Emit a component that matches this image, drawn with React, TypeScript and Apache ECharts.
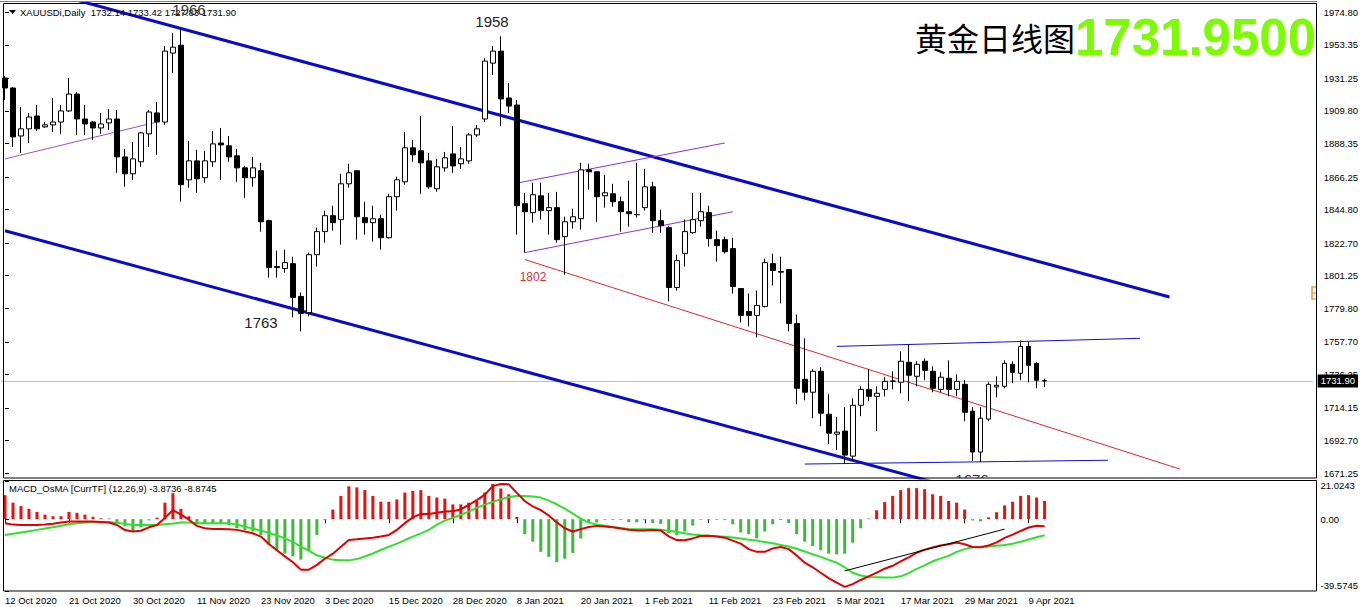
import React, { useEffect, useRef } from 'react';
import * as echarts from 'echarts';

// ---------- data ----------
const SLOTS = 164;
const LABEL_STEP = 8;
const dateLabels = ['12 Oct 2020', '21 Oct 2020', '30 Oct 2020', '11 Nov 2020', '23 Nov 2020', '3 Dec 2020', '15 Dec 2020', '28 Dec 2020', '8 Jan 2021', '20 Jan 2021', '1 Feb 2021', '11 Feb 2021', '23 Feb 2021', '5 Mar 2021', '17 Mar 2021', '29 Mar 2021', '9 Apr 2021'];

const opens = [
  1931.5, 1924.9, 1893.3, 1898.0, 1906.5, 1899.3, 1900.6, 1902.5, 1909.8, 1920.9,
  1904.5, 1902.5, 1898.6, 1901.9, 1904.5, 1879.5, 1868.4, 1876.3, 1894.7, 1908.5,
  1902.5, 1947.9, 1953.1, 1864.4, 1876.9, 1865.8, 1876.3, 1888.7, 1886.8, 1880.2,
  1872.3, 1865.8, 1870.4, 1837.5, 1807.3, 1806.0, 1809.2, 1787.6, 1777.0, 1815.1,
  1830.3, 1840.8, 1838.2, 1861.8, 1870.4, 1839.5, 1836.2, 1838.8, 1826.3, 1853.3,
  1863.1, 1885.5, 1883.5, 1876.9, 1858.5, 1872.3, 1881.5, 1875.0, 1876.9, 1894.0,
  1904.5, 1941.3, 1949.2, 1918.3, 1913.7, 1848.7, 1842.8, 1853.9, 1844.1, 1846.1,
  1827.0, 1836.8, 1838.8, 1871.0, 1869.7, 1853.9, 1855.2, 1850.0, 1843.4, 1841.4,
  1846.1, 1859.8, 1837.5, 1832.9, 1793.5, 1815.8, 1829.6, 1837.5, 1842.8, 1825.0,
  1825.0, 1819.1, 1792.8, 1777.7, 1775.1, 1781.0, 1809.2, 1804.0, 1805.3, 1769.8,
  1733.0, 1724.5, 1738.3, 1710.0, 1696.9, 1698.9, 1682.4, 1715.9, 1726.4, 1721.8,
  1726.4, 1731.7, 1731.1, 1744.2, 1735.0, 1744.9, 1738.3, 1726.4, 1733.7, 1726.4,
  1729.7, 1712.0, 1685.1, 1706.8, 1728.0, 1728.4, 1742.9, 1737.0, 1754.7, 1743.5,
  1732.14,
];
const highs = [
  1932.8, 1925.5, 1912.4, 1908.5, 1913.7, 1902.5, 1918.3, 1913.7, 1931.5, 1922.3,
  1913.7, 1903.2, 1908.5, 1911.1, 1910.4, 1884.8, 1889.4, 1896.0, 1910.4, 1915.7,
  1952.5, 1961.0, 1964.3, 1890.1, 1884.2, 1883.5, 1896.6, 1898.6, 1893.3, 1884.8,
  1873.6, 1879.5, 1875.6, 1838.2, 1817.8, 1818.4, 1813.8, 1790.2, 1816.5, 1832.9,
  1844.1, 1847.4, 1868.4, 1875.0, 1870.4, 1850.0, 1847.4, 1841.4, 1855.2, 1866.4,
  1896.0, 1890.7, 1906.5, 1882.2, 1878.2, 1882.8, 1899.9, 1886.1, 1895.3, 1900.6,
  1944.6, 1952.5, 1959.0, 1928.2, 1917.0, 1855.9, 1862.5, 1862.5, 1855.9, 1856.5,
  1840.1, 1845.4, 1875.6, 1875.0, 1870.0, 1867.7, 1861.8, 1853.3, 1863.8, 1875.6,
  1871.7, 1863.1, 1844.7, 1834.2, 1815.1, 1838.2, 1855.9, 1855.9, 1847.4, 1830.9,
  1827.0, 1826.3, 1792.8, 1789.5, 1791.5, 1812.5, 1815.8, 1813.8, 1805.6, 1775.7,
  1760.0, 1739.6, 1740.9, 1723.2, 1708.1, 1714.6, 1720.5, 1728.4, 1739.6, 1728.4,
  1734.4, 1738.3, 1751.4, 1756.0, 1744.9, 1746.8, 1741.6, 1737.6, 1745.5, 1736.3,
  1732.4, 1714.6, 1714.6, 1731.1, 1735.0, 1745.5, 1744.9, 1758.6, 1758.0, 1744.2,
  1733.42,
];
const lows = [
  1917.0, 1886.1, 1882.2, 1888.7, 1896.6, 1898.6, 1896.0, 1894.7, 1909.1, 1894.0,
  1894.0, 1890.7, 1894.7, 1897.3, 1869.0, 1859.8, 1864.4, 1873.0, 1886.1, 1880.9,
  1900.6, 1934.7, 1850.0, 1859.2, 1855.9, 1862.5, 1873.0, 1864.4, 1876.3, 1863.1,
  1852.6, 1859.8, 1830.3, 1800.0, 1800.0, 1803.3, 1773.8, 1764.6, 1774.4, 1807.3,
  1823.0, 1830.9, 1821.7, 1859.2, 1825.0, 1828.3, 1823.7, 1818.4, 1825.7, 1844.1,
  1861.2, 1876.3, 1855.2, 1858.5, 1856.5, 1869.7, 1869.0, 1871.7, 1875.0, 1892.7,
  1902.5, 1933.4, 1899.9, 1908.5, 1828.3, 1816.5, 1836.2, 1838.2, 1828.3, 1823.0,
  1802.0, 1832.3, 1831.6, 1857.9, 1836.8, 1846.1, 1846.7, 1830.3, 1833.6, 1839.5,
  1844.1, 1829.6, 1829.6, 1784.3, 1791.5, 1807.3, 1829.0, 1833.6, 1820.4, 1810.5,
  1815.8, 1789.5, 1770.5, 1767.9, 1760.6, 1780.3, 1794.8, 1783.0, 1764.6, 1716.6,
  1719.2, 1707.4, 1702.1, 1690.3, 1686.4, 1677.2, 1679.2, 1708.7, 1718.6, 1698.9,
  1721.8, 1726.4, 1723.8, 1718.6, 1728.4, 1732.4, 1724.5, 1724.5, 1721.8, 1721.8,
  1705.4, 1679.2, 1678.5, 1705.4, 1721.2, 1727.1, 1730.4, 1732.4, 1731.1, 1727.1,
  1727.83,
];
const closes = [
  1924.9, 1892.7, 1898.0, 1905.8, 1898.0, 1900.6, 1902.5, 1909.8, 1920.9, 1904.5,
  1901.2, 1898.6, 1901.2, 1904.5, 1879.5, 1868.4, 1878.2, 1895.3, 1909.1, 1902.5,
  1949.2, 1951.8, 1861.2, 1876.9, 1865.1, 1876.9, 1888.1, 1887.4, 1879.5, 1872.3,
  1865.8, 1872.3, 1836.8, 1806.6, 1806.6, 1809.9, 1786.9, 1776.4, 1815.1, 1830.3,
  1840.8, 1836.2, 1861.8, 1869.0, 1840.1, 1836.2, 1838.8, 1826.3, 1853.3, 1864.4,
  1885.5, 1880.9, 1875.6, 1859.8, 1873.0, 1878.9, 1873.6, 1878.2, 1894.0, 1898.0,
  1942.6, 1949.2, 1917.7, 1913.0, 1847.4, 1843.4, 1854.6, 1844.1, 1846.1, 1825.0,
  1836.8, 1840.1, 1871.0, 1869.7, 1853.3, 1855.9, 1850.0, 1843.4, 1842.1, 1841.6,
  1859.8, 1837.5, 1834.2, 1793.5, 1811.2, 1830.3, 1838.2, 1843.4, 1825.7, 1821.1,
  1817.1, 1794.1, 1775.1, 1775.1, 1781.7, 1809.9, 1804.7, 1803.6, 1769.8, 1727.1,
  1724.5, 1738.3, 1710.7, 1697.5, 1698.2, 1683.1, 1715.9, 1726.4, 1721.8, 1723.8,
  1731.7, 1731.9, 1744.9, 1735.7, 1742.9, 1738.9, 1727.1, 1734.4, 1726.4, 1731.7,
  1711.3, 1685.1, 1707.4, 1729.7, 1729.1, 1743.5, 1737.6, 1754.7, 1742.2, 1732.4,
  1731.90,
];

const osma = [
  13.2, 9.1, 7.2, 5.7, 4.0, 2.5, 1.6, 1.6, 4.0, 3.5,
  2.5, 1.3, 0.5, 0.3, -2.2, -4.0, -6.8, -4.5, -0.7, 0.8,
  9.1, 14.3, 5.7, 1.6, -2.2, -2.2, -2.8, -2.8, -3.2, -5.0,
  -5.9, -6.8, -8.7, -14.3, -17.1, -19.0, -20.5, -22.3, -17.1, -8.7,
  -0.5, 5.3, 12.8, 18.1, 17.5, 16.0, 12.8, 9.6, 9.6, 10.9,
  14.7, 15.6, 16.0, 12.8, 11.9, 11.3, 8.1, 8.1, 9.1, 10.0,
  14.7, 19.4, 16.9, 13.7, 1.2, -8.3, -12.4, -18.0, -20.8, -23.7,
  -21.8, -18.6, -10.6, -2.2, -1.8, -0.4, -0.5, -0.5, -1.7, -1.7,
  -0.5, -2.2, -2.6, -7.8, -8.7, -6.8, -3.5, -0.4, -0.4, -0.4,
  -0.5, -2.8, -7.3, -8.3, -10.6, -6.8, -2.8, -0.5, -2.2, -8.3,
  -12.4, -14.8, -17.1, -19.0, -19.4, -19.0, -13.0, -5.0, 0.3, 4.9,
  9.4, 12.8, 16.0, 17.1, 17.1, 16.5, 13.7, 12.8, 10.0, 9.1,
  5.3, -0.7, -1.2, 1.0, 3.8, 7.6, 9.6, 12.8, 13.2, 11.9,
  10.0,
];
const macdLine = [
  -2.2, -3.0, -3.2, -3.2, -3.2, -3.0, -2.5, -1.8, -1.3, -1.3,
  -1.3, -1.3, -1.5, -1.8, -3.2, -6.0, -6.8, -6.4, -4.5, -3.2,
  0.7, 5.0, 2.5, -0.3, -3.7, -5.0, -5.4, -5.4, -5.6, -5.9,
  -6.8, -7.8, -9.6, -13.7, -17.1, -20.5, -23.7, -27.8, -27.8, -25.2,
  -21.8, -19.0, -15.2, -11.5, -11.1, -10.6, -10.2, -9.6, -8.7, -5.9,
  -2.2, 1.0, 2.9, 2.9, 3.5, 4.2, 4.3, 5.5, 7.8, 10.5,
  13.5, 18.2, 19.4, 19.2, 14.5, 10.0, 7.0, 5.0, 2.0, -1.8,
  -5.0, -6.8, -5.5, -4.3, -3.7, -4.0, -4.5, -5.2, -5.8, -6.3,
  -6.2, -6.0, -6.2, -9.5, -11.5, -11.6, -10.6, -9.3, -9.2, -9.6,
  -10.2, -11.8, -13.5, -16.5, -18.0, -18.0, -16.1, -15.3, -16.5, -20.0,
  -24.0, -26.5, -29.5, -32.5, -35.0, -37.3, -35.8, -33.5, -31.5, -29.5,
  -27.3, -25.7, -23.3, -21.0, -18.5, -16.8, -15.6, -14.5, -13.8, -12.9,
  -13.8, -15.3, -15.5, -14.5, -12.8, -10.3, -8.5, -6.5, -4.6, -3.6,
  -3.8736,
];
const signalLine = [
  -8.7, -8.0, -7.3, -6.6, -5.9, -5.2, -4.5, -3.6, -2.8, -2.3,
  -1.9, -1.7, -1.7, -1.7, -2.0, -2.6, -3.2, -3.2, -3.2, -3.2,
  -2.8, -2.4, -1.9, -1.9, -2.2, -2.2, -2.2, -2.2, -2.2, -3.0,
  -4.2, -5.2, -6.3, -7.5, -9.0, -10.6, -12.5, -15.2, -17.3, -19.9,
  -21.3, -22.3, -22.7, -22.7, -22.0, -20.6, -18.9, -17.0, -15.2, -13.5,
  -11.5, -9.6, -7.8, -5.9, -3.0, -0.8, 0.8, 2.4, 4.2, 6.2,
  8.0, 9.5, 11.0, 12.2, 12.8, 12.8, 12.5, 11.9, 10.2, 8.2,
  5.8, 3.0, 0.3, -1.9, -2.9, -3.6, -4.3, -4.9, -5.4, -5.6,
  -5.6, -5.6, -5.8, -6.4, -7.1, -7.8, -8.4, -8.9, -9.2, -9.4,
  -9.7, -10.1, -10.7, -11.3, -11.8, -12.6, -13.3, -14.2, -15.1, -16.3,
  -17.8, -19.3, -20.8, -22.4, -24.0, -26.5, -29.5, -31.0, -31.8, -32.0,
  -32.2, -32.2, -31.5, -29.7, -27.4, -25.5, -23.2, -21.6, -20.2, -18.0,
  -16.5, -15.5, -15.2, -15.0, -14.6, -14.2, -13.5, -12.4, -11.2, -10.0,
  -8.8745,
];

const priceTicks = [1974.80, 1953.35, 1931.25, 1909.80, 1888.35, 1866.25, 1844.80, 1822.70, 1801.25, 1779.80, 1757.70, 1736.25, 1714.15, 1692.70, 1671.25];
const macdTicks = [21.0243, 0, -39.5745];
const lastPrice = 1731.90;

// trend lines: [bar index, price]
const channelUpper = [[0, 1995.6], [145.6, 1787.2]];
const channelLower = [[0, 1830.9], [116, 1665.4]];
const purpleLeft = [[0, 1878.2], [19, 1902.5]];
const purpleUpper = [[64.25, 1862.5], [90, 1888.7]];
const purpleLower = [[65, 1816.5], [91, 1843.4]];
const redTrend = [[65, 1811.9], [146.9, 1673.9]];
const blueTop = [[104, 1754.7], [141.9, 1760.0]];
const blueBottom = [[100, 1677.2], [137.9, 1679.7]];
const macdTrend = [[105, -28.5], [125, -5.5]];

const FONT = "'Liberation Sans', Arial, sans-serif";

export default function App() {
  const ref = useRef<HTMLDivElement>(null);

  useEffect(() => {
    if (!ref.current) return;
    const chart = echarts.init(ref.current, undefined, { renderer: 'svg' });

    const cats = Array.from({ length: SLOTS }, (_, i) =>
      i % LABEL_STEP === 0 && dateLabels[i / LABEL_STEP] ? dateLabels[i / LABEL_STEP] : ''
    );
    const showCat = (i: number) => cats[i] !== '';
    const candles = opens.map((o, i) => [o, closes[i], lows[i], highs[i]]);
    const macdMax = macdTicks[0];
    const macdMin = macdTicks[macdTicks.length - 1];

    const trend = (data: number[][], color: string, width: number, xi = 2, yi = 0) => ({
      type: 'line',
      xAxisIndex: xi,
      yAxisIndex: yi,
      data,
      symbol: 'none',
      silent: true,
      lineStyle: { color, width },
      z: 4,
    });

    const option: any = {
      animation: false,
      backgroundColor: '#ffffff',
      grid: [
        { left: 1, top: 3, width: 1312, height: 475 },
        { left: 1, top: 481, width: 1312, height: 110 },
      ],
      xAxis: [
        { type: 'category', gridIndex: 0, data: cats, boundaryGap: true, show: false },
        {
          type: 'category', gridIndex: 1, data: cats, boundaryGap: true,
          axisLine: { show: false },
          axisTick: { show: true, alignWithLabel: true, interval: (i: number) => showCat(i), length: 4, lineStyle: { color: '#000' } },
          axisLabel: { interval: (i: number) => showCat(i), align: 'left', margin: 4, fontSize: 9.5, color: '#000', fontFamily: FONT },
          splitLine: { show: false },
        },
        { type: 'value', gridIndex: 0, min: -0.5, max: SLOTS - 0.5, show: false },
        { type: 'value', gridIndex: 1, min: -0.5, max: SLOTS - 0.5, show: false },
      ],
      yAxis: [
        {
          type: 'value', gridIndex: 0, position: 'right', offset: 4, min: 1668.0, max: 1980.9,
          axisLine: { show: false },
          axisTick: { show: true, customValues: priceTicks, length: 4, lineStyle: { color: '#000' } },
          axisLabel: { customValues: priceTicks, formatter: (v: number) => v.toFixed(2), margin: 7, fontSize: 9.5, color: '#000', fontFamily: FONT },
          splitLine: { show: false },
        },
        {
          type: 'value', gridIndex: 1, position: 'right', offset: 4, min: macdMin, max: macdMax,
          axisLine: { show: false },
          axisTick: { show: true, customValues: macdTicks, length: 4, lineStyle: { color: '#000' } },
          axisLabel: {
            customValues: macdTicks,
            formatter: (v: number) => {
              if (v === 0) return '0.00';
              if (v === macdMax) return '{top|' + v.toFixed(4) + '}';
              return '{bot|' + v.toFixed(4) + '}';
            },
            rich: {
              top: { padding: [9, 0, 0, 0], fontSize: 9.5, color: '#000', fontFamily: FONT },
              bot: { padding: [0, 0, 12, 0], fontSize: 9.5, color: '#000', fontFamily: FONT },
            },
            margin: 4, fontSize: 9.5, color: '#000', fontFamily: FONT,
          },
          splitLine: { show: false },
        },
      ],
      series: [
        {
          type: 'candlestick',
          xAxisIndex: 0,
          yAxisIndex: 0,
          data: candles,
          barWidth: 5,
          z: 5,
          itemStyle: { color: '#ffffff', color0: '#000000', borderColor: '#000000', borderColor0: '#000000', borderWidth: 1 },
          markLine: {
            silent: true,
            symbol: ['none', 'none'],
            data: [{ yAxis: lastPrice }],
            lineStyle: { color: '#c0c0c0', width: 1, type: 'solid' },
            label: {
              show: true, position: 'end', distance: 5,
              formatter: () => lastPrice.toFixed(2),
              backgroundColor: '#000', color: '#fff', padding: [2, 3, 1, 3],
              fontSize: 9.5, fontFamily: FONT,
            },
            z: 1,
          },
        },
        trend(channelUpper, '#0a0ac8', 3),
        trend(channelLower, '#0a0ac8', 3),
        trend(purpleLeft, '#a050c8', 1),
        trend(purpleUpper, '#9030d0', 1),
        trend(purpleLower, '#9030d0', 1),
        trend(redTrend, '#e02828', 1),
        trend(blueTop, '#1010c8', 1),
        trend(blueBottom, '#1010c8', 1),
        {
          type: 'bar',
          xAxisIndex: 1,
          yAxisIndex: 1,
          data: osma,
          barWidth: 3,
          silent: true,
          itemStyle: { color: (p: any) => (p.value >= 0 ? '#e41212' : '#40b840') },
        },
        {
          type: 'line', xAxisIndex: 1, yAxisIndex: 1, data: macdLine, symbol: 'none', silent: true,
          lineStyle: { color: '#e00000', width: 2 }, z: 4,
        },
        {
          type: 'line', xAxisIndex: 1, yAxisIndex: 1, data: signalLine, symbol: 'none', silent: true,
          lineStyle: { color: '#30e030', width: 2 }, z: 3,
        },
        trend(macdTrend, '#000000', 1, 3, 1),
      ],
      graphic: [
        // "1676" label partly hidden by the panel edge
        { type: 'text', z: 50, x: 972, y: 479, style: { text: '1676', fontSize: 15, fill: '#333', fontFamily: FONT, align: 'center', verticalAlign: 'middle' } },
        { type: 'rect', z: 60, shape: { x: 940, y: 478, width: 70, height: 14 }, style: { fill: '#fff' } },
        // frames
        { type: 'rect', z: 100, shape: { x: 3.5, y: 3.5, width: 1313, height: 474.5 }, style: { fill: 'none', stroke: '#000', lineWidth: 1 } },
        { type: 'rect', z: 100, shape: { x: 3.5, y: 480.5, width: 1313, height: 110.5 }, style: { fill: 'none', stroke: '#000', lineWidth: 1 } },
        { type: 'line', z: 100, shape: { x1: 0, y1: 1.5, x2: 1317, y2: 1.5 }, style: { stroke: '#808080', lineWidth: 1 } },
        // header
        { type: 'polygon', z: 101, shape: { points: [[9, 10], [16, 10], [12.5, 14]] }, style: { fill: '#000' } },
        { type: 'text', z: 101, x: 20, y: 12, style: { text: 'XAUUSDi,Daily  1732.14 1733.42 1727.83 1731.90', fontSize: 9.5, fill: '#000', fontFamily: FONT, verticalAlign: 'middle' } },
        { type: 'text', z: 101, x: 9, y: 488, style: { text: 'MACD_OsMA [CurrTF] (12,26,9) -3.8736 -8.8745', fontSize: 9.5, fill: '#000', fontFamily: FONT, verticalAlign: 'middle' } },
        // price annotations
        { type: 'text', z: 102, x: 189, y: 9, style: { text: '1966', fontSize: 15, fill: '#333', fontFamily: FONT, align: 'center', verticalAlign: 'middle' } },
        { type: 'text', z: 102, x: 492, y: 21, style: { text: '1958', fontSize: 15, fill: '#222', fontFamily: FONT, align: 'center', verticalAlign: 'middle' } },
        { type: 'text', z: 102, x: 261, y: 322, style: { text: '1763', fontSize: 15, fill: '#222', fontFamily: FONT, align: 'center', verticalAlign: 'middle' } },
        { type: 'text', z: 102, x: 533, y: 277, style: { text: '1802', fontSize: 12, fill: '#e03030', fontFamily: FONT, align: 'center', verticalAlign: 'middle' } },
        // title
        { type: 'text', z: 102, x: 1075, y: 37, style: { text: '黄金日线图', fontSize: 32, fill: '#000', fontFamily: "'Noto Sans CJK SC', sans-serif", align: 'right', verticalAlign: 'middle' } },
        { type: 'text', z: 102, x: 1075, y: 37, style: { text: '1731.9500', fontSize: 51, fontWeight: 'bold', fill: '#7cfc00', fontFamily: FONT, align: 'left', verticalAlign: 'middle' } },
        // small orange marker at right edge
        { type: 'polyline', z: 102, shape: { points: [[1316, 287], [1312, 287], [1312, 299], [1316, 299]] }, style: { stroke: '#f0a030', lineWidth: 1.5, fill: 'none' } },
        { type: 'line', z: 102, shape: { x1: 1312, y1: 293, x2: 1316, y2: 293 }, style: { stroke: '#f0a030', lineWidth: 1.5 } },
      ],
    };

    chart.setOption(option);
    return () => chart.dispose();
  }, []);

  return (
    <div
      ref={ref}
      style={{ position: 'fixed', left: 0, top: 0, width: 1361, height: 607, background: '#fff' }}
    />
  );
}
